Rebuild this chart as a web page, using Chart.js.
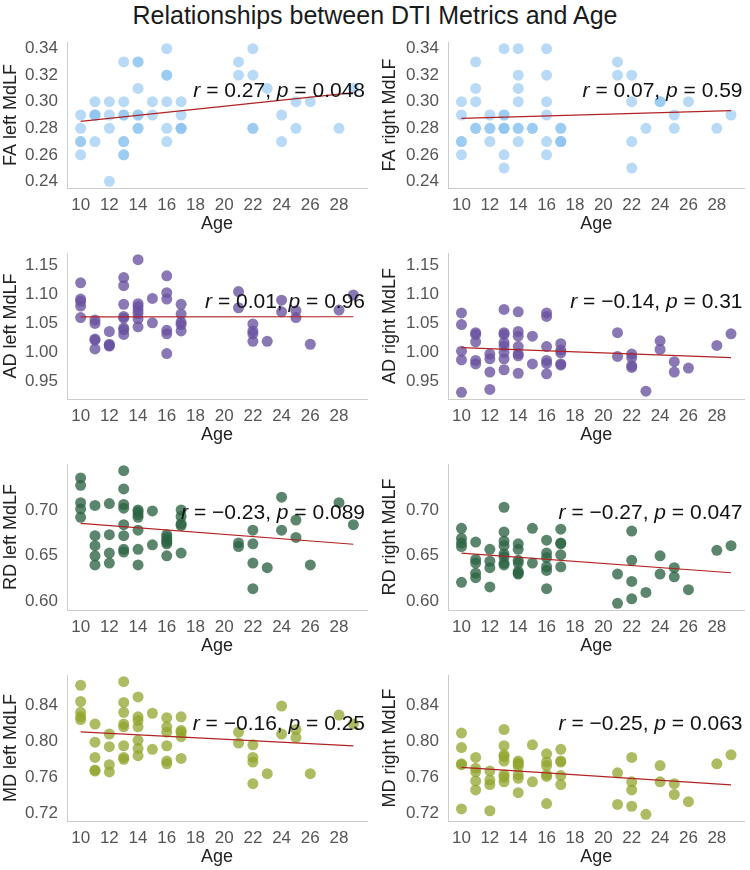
<!DOCTYPE html>
<html>
<head>
<meta charset="utf-8">
<script src="https://cdn.jsdelivr.net/npm/chart.js@4.4.1/dist/chart.umd.min.js"></script>
<style>
  html, body { margin: 0; padding: 0; background: #fff; width: 750px; height: 870px; overflow: hidden; }
  #title { position: absolute; left: 0; top: 1px; width: 750px; text-align: center;
           font: 25px "Liberation Sans", Arial, sans-serif; line-height: 28px; color: #1a1a1a; }
  .panel { position: absolute; }
</style>
</head>
<body>
<div id="title">Relationships between DTI Metrics and Age</div>
<div id="panels"></div>
<script>
// ages of the subjects (same for every panel)
const AGES = [10,10,10,10,10, 11,11,11,11,11, 12,12,12,12, 13,13,13,13,13,13,13,13,
              14,14,14,14,14,14,14, 15,15, 16,16,16,16,16,16, 17,17,17,17,17,
              21,21, 22,22,22,22, 23, 24,24, 25,25, 26, 28, 29];

const FA_LEFT  = [0.29,0.28,0.27,0.27,0.26, 0.30,0.29,0.29,0.29,0.27, 0.30,0.29,0.28,0.24,
                  0.33,0.30,0.29,0.29,0.27,0.27,0.26,0.26, 0.33,0.33,0.31,0.29,0.29,0.28,0.28,
                  0.30,0.29, 0.34,0.32,0.32,0.30,0.28,0.27, 0.30,0.29,0.28,0.28,0.28,
                  0.33,0.32, 0.34,0.32,0.28,0.28, 0.31, 0.29,0.27, 0.30,0.28, 0.30, 0.28, 0.31];
const FA_RIGHT = [0.30,0.29,0.27,0.27,0.26, 0.33,0.31,0.30,0.28,0.28, 0.29,0.28,0.28,0.27,
                  0.34,0.29,0.29,0.28,0.28,0.28,0.26,0.25, 0.34,0.32,0.31,0.30,0.28,0.28,0.27,
                  0.28,0.28, 0.34,0.32,0.30,0.29,0.27,0.26, 0.28,0.28,0.27,0.27,0.27,
                  0.33,0.32, 0.32,0.30,0.27,0.25, 0.28, 0.30,0.30, 0.29,0.28, 0.30, 0.28, 0.29];
const AD_LEFT  = [1.120,1.092,1.088,1.080,1.060, 1.056,1.050,1.023,1.021,1.006, 1.036,1.014,1.012,1.011,
                  1.129,1.115,1.083,1.062,1.059,1.042,1.039,1.031, 1.160,1.084,1.079,1.073,1.067,1.058,1.044,
                  1.093,1.051, 1.132,1.103,1.092,1.038,1.032,0.998, 1.083,1.066,1.052,1.048,1.037,
                  1.105,1.077, 1.049,1.037,1.032,1.019, 1.019, 1.090,1.070, 1.072,1.060, 1.014, 1.073, 1.099];
const AD_RIGHT = [1.068,1.048,1.002,0.987,0.931, 1.034,1.031,1.018,0.986,0.980, 0.997,0.989,0.966,0.936,
                  1.074,1.034,1.031,1.017,1.011,1.000,0.989,0.970, 1.070,1.036,1.028,1.010,0.998,0.994,0.964,
                  1.028,0.980, 1.068,1.062,1.010,0.986,0.981,0.963, 1.015,1.004,0.999,0.980,0.978,
                  1.034,0.993, 0.997,0.991,0.977,0.974, 0.933, 1.020,1.005, 0.984,0.966, 0.973, 1.012, 1.032];
const RD_LEFT  = [0.735,0.727,0.708,0.701,0.692, 0.705,0.672,0.661,0.650,0.640, 0.707,0.673,0.653,0.642,
                  0.743,0.723,0.706,0.702,0.684,0.672,0.657,0.654, 0.700,0.698,0.695,0.692,0.678,0.657,0.640,
                  0.699,0.662, 0.673,0.670,0.667,0.665,0.663,0.650, 0.700,0.693,0.685,0.683,0.653,
                  0.664,0.660, 0.678,0.663,0.642,0.614, 0.637, 0.714,0.678, 0.689,0.670, 0.640, 0.708, 0.684];
const RD_RIGHT = [0.680,0.669,0.664,0.660,0.621, 0.665,0.646,0.642,0.631,0.626, 0.657,0.644,0.637,0.616,
                  0.703,0.676,0.666,0.661,0.652,0.649,0.642,0.640, 0.663,0.657,0.645,0.642,0.633,0.631,0.630,
                  0.680,0.642, 0.667,0.653,0.648,0.638,0.634,0.614, 0.679,0.664,0.663,0.651,0.638,
                  0.630,0.598, 0.677,0.645,0.622,0.603, 0.610, 0.650,0.630, 0.637,0.627, 0.613, 0.656, 0.661];
const MD_LEFT  = [0.862,0.844,0.832,0.827,0.824, 0.819,0.799,0.782,0.768,0.767, 0.808,0.794,0.774,0.766,
                  0.866,0.843,0.832,0.819,0.816,0.795,0.782,0.780, 0.849,0.827,0.823,0.816,0.801,0.792,0.784,
                  0.831,0.791, 0.826,0.816,0.810,0.795,0.778,0.775, 0.827,0.812,0.810,0.805,0.781,
                  0.810,0.798, 0.796,0.782,0.777,0.753, 0.764, 0.839,0.808, 0.813,0.804, 0.764, 0.829, 0.819];
const MD_RIGHT = [0.809,0.793,0.775,0.774,0.725, 0.782,0.770,0.766,0.756,0.746, 0.767,0.757,0.752,0.723,
                  0.813,0.795,0.785,0.783,0.778,0.763,0.760,0.755, 0.778,0.776,0.775,0.772,0.763,0.759,0.743,
                  0.796,0.755, 0.786,0.777,0.773,0.763,0.761,0.731, 0.791,0.778,0.777,0.762,0.752,
                  0.765,0.730, 0.782,0.755,0.746,0.728, 0.719, 0.773,0.755, 0.753,0.741, 0.733, 0.775, 0.785];

const VALUES = [FA_LEFT, FA_RIGHT, AD_LEFT, AD_RIGHT, RD_LEFT, RD_RIGHT, MD_LEFT, MD_RIGHT];
const Y_LABELS = ['FA left MdLF', 'FA right MdLF', 'AD left MdLF', 'AD right MdLF',
                  'RD left MdLF', 'RD right MdLF', 'MD left MdLF', 'MD right MdLF'];
const R_TEXT = ['0.27', '0.07', '0.01', '\u22120.14', '\u22120.23', '\u22120.27', '\u22120.16', '\u22120.25'];
const P_TEXT = ['0.048', '0.59', '0.96', '0.31', '0.089', '0.047', '0.25', '0.063'];

const X_TICKS = [10, 12, 14, 16, 18, 20, 22, 24, 26, 28];
const Y_TICKS = [
  [0.24, 0.26, 0.28, 0.30, 0.32, 0.34],
  [0.95, 1.00, 1.05, 1.10, 1.15],
  [0.60, 0.65, 0.70],
  [0.72, 0.76, 0.80, 0.84]
];
const ROW_COLORS = ['rgba(140,195,240,0.62)', 'rgba(105,82,160,0.78)', 'rgba(45,100,68,0.78)', 'rgba(145,165,45,0.75)'];

const FONT = '"Liberation Sans", Arial, sans-serif';
Chart.defaults.font.family = FONT;

const ROW_TOP = [42, 253, 464, 675];   // top of each plot area
const PAD_TOP = 20, PLOT_H = 146, XAX_H = 48;

function fitLine(xs, ys) {
  const n = xs.length;
  const mx = xs.reduce((a, b) => a + b, 0) / n;
  const my = ys.reduce((a, b) => a + b, 0) / n;
  let sxy = 0, sxx = 0;
  for (let i = 0; i < n; i++) { sxy += (xs[i] - mx) * (ys[i] - my); sxx += (xs[i] - mx) ** 2; }
  const b = sxy / sxx;
  return x => my + b * (x - mx);
}

function padRange(lo, hi) {
  const m = (hi - lo) * 0.05;
  return [lo - m, hi + m];
}

const annotate = {
  id: 'annotate',
  afterDatasetsDraw(chart, args, opts) {
    const { ctx, chartArea } = chart;
    const parts = [['r', true], [' = ' + opts.r + ', ', false], ['p', true], [' = ' + opts.p, false]];
    const fontOf = it => (it ? 'italic ' : '') + '21px ' + FONT;
    ctx.save();
    ctx.fillStyle = '#111';
    ctx.textBaseline = 'middle';
    let total = 0;
    parts.forEach(p => { ctx.font = fontOf(p[1]); total += ctx.measureText(p[0]).width; });
    let x = chartArea.right - 2 - total;
    const y = chartArea.top + 49;
    parts.forEach(p => { ctx.font = fontOf(p[1]); ctx.fillText(p[0], x, y); x += ctx.measureText(p[0]).width; });
    ctx.restore();
  }
};

const xRange = padRange(Math.min(...AGES), Math.max(...AGES));
const holder = document.getElementById('panels');

VALUES.forEach((vals, i) => {
  const row = Math.floor(i / 2), col = i % 2;
  const rowVals = VALUES[row * 2].concat(VALUES[row * 2 + 1]);
  const yRange = padRange(Math.min(...rowVals), Math.max(...rowVals));

  const div = document.createElement('div');
  div.className = 'panel';
  div.style.left = (col * 375) + 'px';
  div.style.top = (ROW_TOP[row] - PAD_TOP) + 'px';
  const canvas = document.createElement('canvas');
  canvas.width = 375;
  canvas.height = PAD_TOP + PLOT_H + XAX_H;
  div.appendChild(canvas);
  holder.appendChild(div);

  const f = fitLine(AGES, vals);
  const x0 = Math.min(...AGES), x1 = Math.max(...AGES);

  new Chart(canvas.getContext('2d'), {
    type: 'scatter',
    data: {
      datasets: [
        {
          type: 'line',
          data: [{ x: x0, y: f(x0) }, { x: x1, y: f(x1) }],
          borderColor: '#b22222', borderWidth: 1.2, pointRadius: 0, fill: false, order: 1
        },
        {
          data: AGES.map((a, k) => ({ x: a, y: vals[k] })),
          backgroundColor: ROW_COLORS[row], borderWidth: 0, pointRadius: 5.5, order: 2
        }
      ]
    },
    options: {
      responsive: false,
      animation: false,
      devicePixelRatio: 1,
      layout: { padding: { top: PAD_TOP, left: 0, right: col ? 2 : 8, bottom: 0 } },
      plugins: { legend: { display: false }, tooltip: { enabled: false },
                 annotate: { r: R_TEXT[i], p: P_TEXT[i] } },
      scales: {
        x: {
          type: 'linear', min: xRange[0], max: xRange[1],
          afterBuildTicks: s => { s.ticks = X_TICKS.map(v => ({ value: v })); },
          afterFit: s => { s.height = XAX_H; },
          grid: { display: false, drawTicks: false },
          border: { display: true, color: '#cccccc', width: 1 },
          ticks: { autoSkip: false, maxRotation: 0, padding: 7, color: '#555555', font: { size: 17 } },
          title: { display: true, text: 'Age', color: '#222222', font: { size: 18 }, padding: { top: 0, bottom: 1 } }
        },
        y: {
          type: 'linear', min: yRange[0], max: yRange[1],
          afterBuildTicks: s => { s.ticks = Y_TICKS[row].map(v => ({ value: v })); },
          afterFit: s => { s.width = col ? 73 : 67; },
          grid: { display: false, drawTicks: false },
          border: { display: true, color: '#cccccc', width: 1 },
          ticks: { autoSkip: false, padding: 9, color: '#555555', font: { size: 17 },
                   callback: v => v.toFixed(2) },
          title: { display: true, text: Y_LABELS[i], color: '#222222', font: { size: 18 },
                   padding: { top: col ? 4 : 0, bottom: 0 } }
        }
      }
    },
    plugins: [annotate]
  });
});
</script>
</body>
</html>
